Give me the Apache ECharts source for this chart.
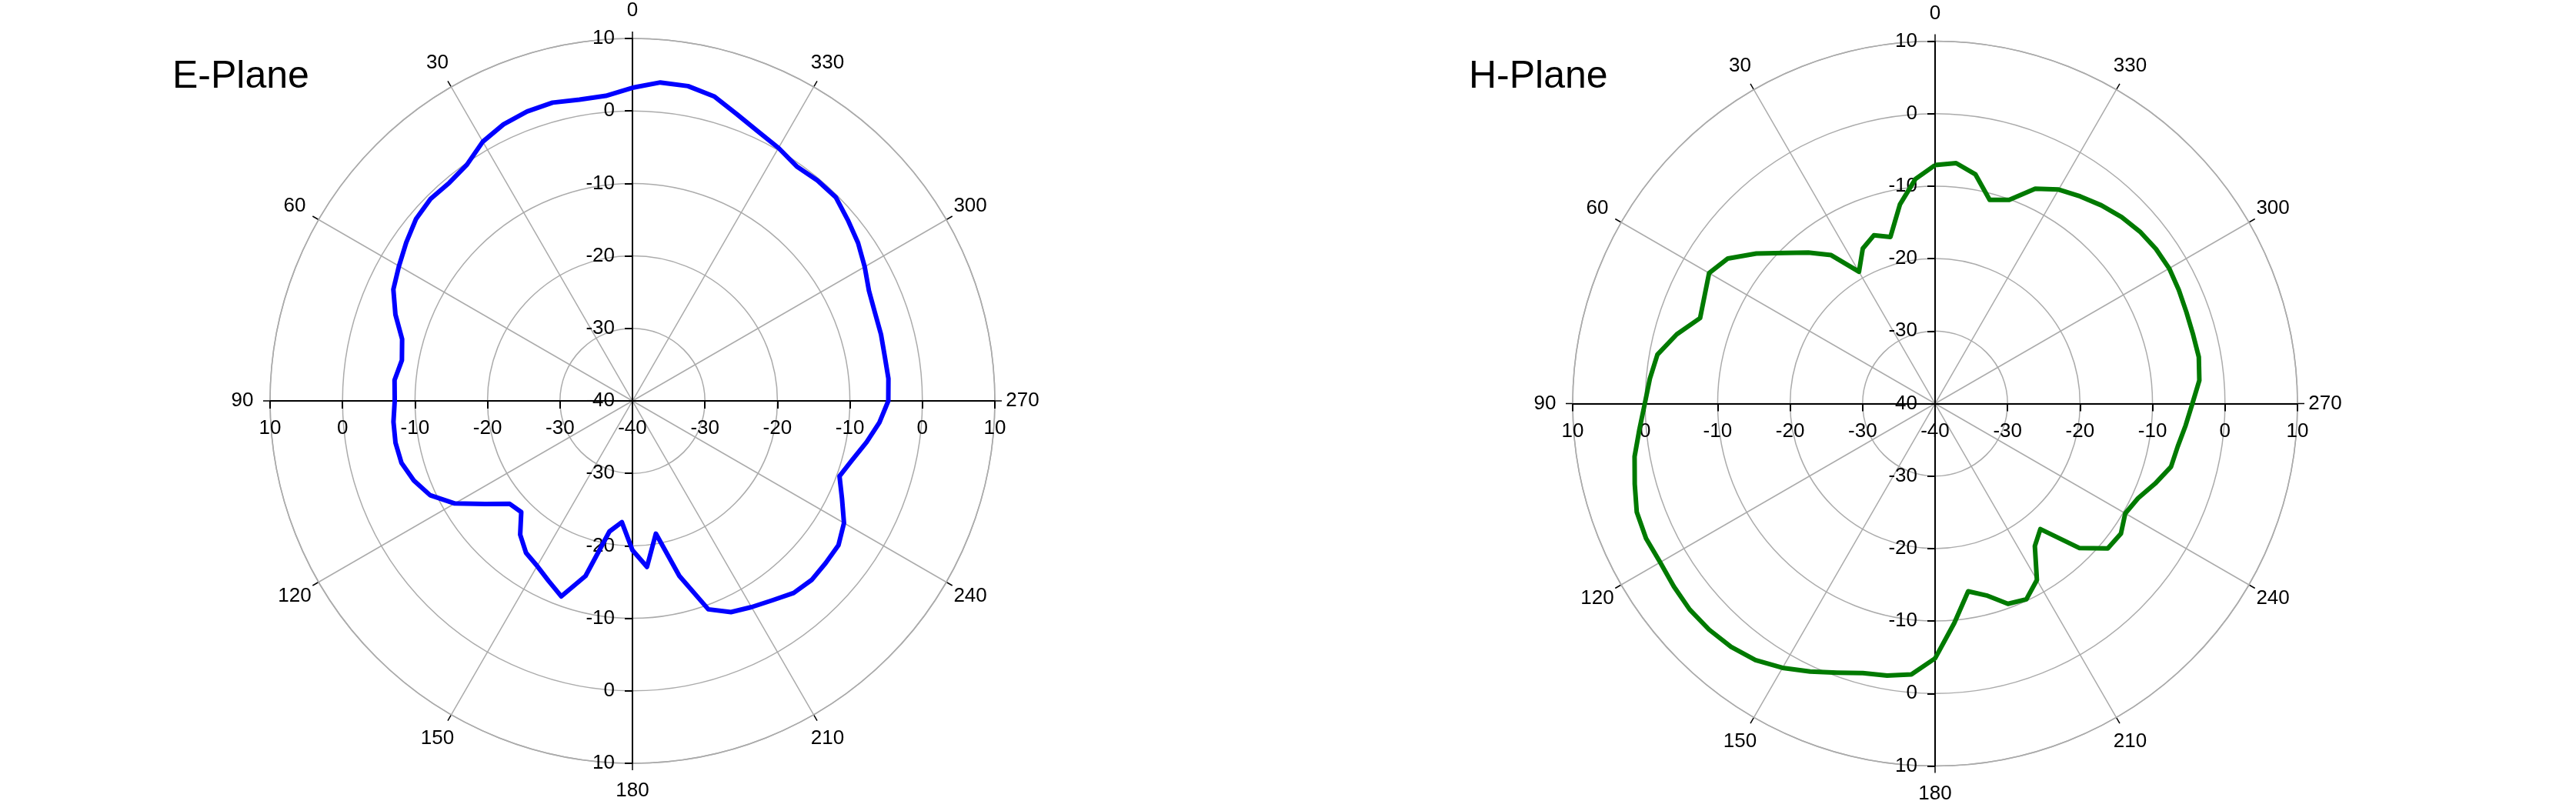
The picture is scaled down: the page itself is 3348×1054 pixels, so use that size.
<!DOCTYPE html>
<html><head><meta charset="utf-8">
<script src="https://cdn.jsdelivr.net/npm/echarts@6/dist/echarts.min.js"></script>
<style>html,body{margin:0;padding:0;background:#fff}#c{width:3348px;height:1054px}</style>
</head><body><div id="c"></div>
<script>
// angle (deg, counter-clockwise from top) of each sample
const angles = [0,5,10,15,20,25,30,35,40,45,50,55,60,65,70,75,80,85,90,95,100,105,110,115,120,125,130,135,140,145,150,155,160,165,170,175,180,185,190,195,200,205,210,215,220,225,230,235,240,245,250,255,260,265,270,275,280,285,290,295,300,305,310,315,320,325,330,335,340,345,350,355,360];
// E-Plane gain (dB)
const ePlane = [3.2,2.25,2.2,2.6,2.5,2.1,1.3,-0.2,-0.7,-0.6,-1.0,-1.9,-2.8,-3.6,-5.2,-7.1,-7.7,-7.05,-7.2,-6.9,-6.8,-7.0,-7.9,-9.2,-11.7,-15.2,-17.9,-18.3,-15.9,-14.4,-13.7,-12.6,-11.3,-15.0,-21.7,-23.2,-19.4,-17.0,-21.4,-15.0,-9.4,-7.85,-7.15,-6.4,-5.4,-5.05,-5.2,-5.3,-6.3,-8.1,-9.6,-8.6,-7.2,-5.8,-4.7,-4.55,-4.65,-4.5,-4.4,-4.0,-3.0,-2.0,-1.2,-0.3,-0.3,-0.5,0.3,1.0,2.1,3.5,4.1,4.1,3.2];
// H-Plane gain (dB)
const hPlane = [-7.1,-8.9,-12.1,-16.2,-15.3,-16.4,-19.0,-15.0,-12.8,-10.6,-7.8,-5.1,-4.0,-4.9,-5.5,-3.1,-1.1,-0.5,0.05,0.95,2.1,2.9,3.8,4.0,3.8,4.0,4.2,4.1,3.8,3.2,2.1,0.8,-0.5,-1.5,-1.9,-2.5,-4.85,-9.6,-13.7,-12.6,-10.6,-10.2,-11.9,-16.0,-17.4,-11.8,-8.9,-8.7,-9.7,-9.1,-7.7,-6.3,-6.0,-5.3,-4.5,-3.4,-3.05,-3.15,-3.1,-2.9,-2.7,-2.8,-3.1,-3.6,-4.3,-5.1,-5.9,-7.3,-10.1,-10.9,-7.9,-6.7,-7.1];
// radial tick values (dB) and angle tick labels
const radialTicks = [-40,-30,-20,-10,0,10];
const angleTicks = [0,30,60,90,120,150,180,210,240,270,300,330];
const titles = ['E-Plane','H-Plane'];
const lineColors = ['#0000ff','#007a00'];

const FONT = 'Liberation Sans';
const GRAY = '#ababab';
const charts = [
  {center:[822,521], data:ePlane},
  {center:[2515,524.5], data:hPlane}
];
const R = 471;            // px radius of the outer ring
const LABEL_GAP = 36;     // px from outer ring to angle label centre
const rMin = radialTicks[0], rMax = radialTicks[radialTicks.length-1];
const labelR = rMax + LABEL_GAP / R * (rMax - rMin);
const dirs = [90,180,270,0];

const polar=[], angleAxis=[], radiusAxis=[], series=[];
charts.forEach((ch, ci) => {
  dirs.forEach((d, di) => {
    const idx = polar.length;
    const main = di === 0;
    polar.push({center: ch.center, radius: R});
    angleAxis.push({
      polarIndex: idx, type:'value', min: 0, max: 360, interval: 30,
      startAngle: d, clockwise: false, show: main, z: 1,
      axisLine:{show:true, lineStyle:{color:GRAY, width:1.5}},
      axisTick:{show:true, length:9, lineStyle:{color:'#000', width:1.5}},
      axisLabel:{show:false},
      splitLine:{show:true, lineStyle:{color:GRAY, width:1.5}}
    });
    const flip = (d === 270 || d === 0);
    const lab = {show:true, fontSize:26, color:'#000', fontFamily:FONT,
      margin: flip ? -23 : 23, showMinLabel: !flip,
      formatter: v => radialTicks.indexOf(v) >= 0 ? String(v) : ''};
    if (d === 270) lab.align = 'right';
    if (d === 0) lab.verticalAlign = 'top';
    radiusAxis.push({
      polarIndex: idx, type:'value', min: rMin, max: rMax, interval: 10, z: 3,
      axisLine:{show:true, lineStyle:{color:'#000', width:2}},
      axisTick:{show:true, length: flip ? -10 : 10, lineStyle:{color:'#000', width:2}},
      axisLabel: lab,
      splitLine:{show: main, lineStyle:{color:GRAY, width:1.5}}
    });
    if (main) {
      series.push({
        type:'line', coordinateSystem:'polar', polarIndex: idx, z: 10,
        symbol:'none', smooth:false, animation:false,
        lineStyle:{color: lineColors[ci], width:6, join:'round'},
        data: ch.data.map((v, i) => [v, angles[i]])
      });
      // angle labels, centred just outside the outer ring
      series.push({
        type:'scatter', coordinateSystem:'polar', polarIndex: idx, z: 5,
        clip:false, silent:true, animation:false,
        symbol:'circle', symbolSize:0, itemStyle:{color:'#000'},
        label:{show:true, position:'inside', fontSize:26, color:'#000', opacity:1,
          textBorderWidth:0, fontFamily:FONT,
          formatter: p => String(p.value[1])},
        emphasis:{disabled:true},
        data: angleTicks.map(a => [labelR, a])
      });
    }
  });
});

const chart = echarts.init(document.getElementById('c'));
chart.setOption({
  backgroundColor:'#fff',
  animation:false,
  textStyle:{fontFamily:FONT},
  title:[
    {text:titles[0], left:224, top:75, padding:0, textStyle:{fontSize:50, fontWeight:'normal', color:'#000', fontFamily:FONT}},
    {text:titles[1], left:1909, top:75, padding:0, textStyle:{fontSize:50, fontWeight:'normal', color:'#000', fontFamily:FONT}}
  ],
  polar, angleAxis, radiusAxis, series
});
</script></body></html>
